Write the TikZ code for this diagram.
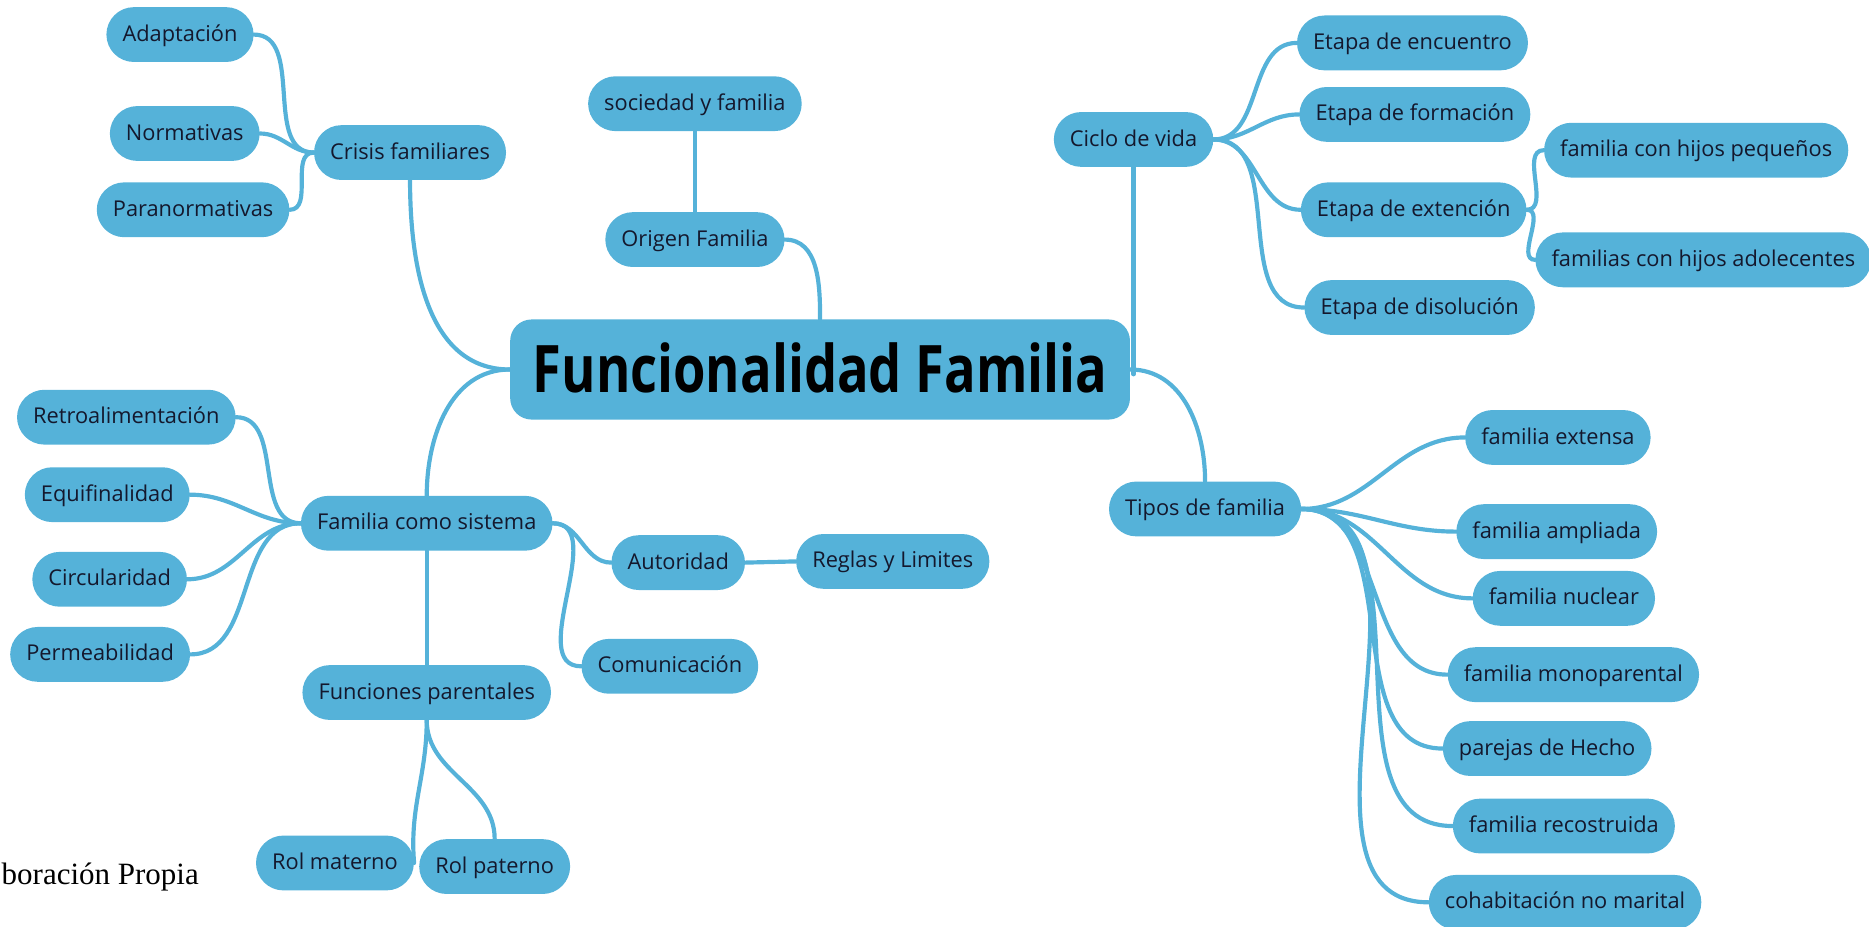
\documentclass[tikz,border=0pt]{standalone}
\usepackage{fontspec}
\setmainfont{Open Sans}
\newfontfamily\serifnote{Liberation Serif}
\newfontfamily\bigfnt[FakeStretch=0.8]{Open Sans}
\usetikzlibrary{backgrounds}
\definecolor{nodec}{RGB}{85,178,217}
\definecolor{txtc}{RGB}{20,24,45}
\tikzset{
  nd/.style={fill=nodec, rounded corners=23pt, minimum height=46pt, inner xsep=13.5pt, inner ysep=0pt,
    text=txtc, font=\fontsize{18.3}{20}\selectfont, text height=13pt, text depth=2pt},
  mainnd/.style={fill=nodec, rounded corners=18pt, minimum height=84pt, minimum width=520pt,
    text=black, font=\bigfnt\fontsize{55}{60}\selectfont\bfseries, text height=40pt, text depth=2pt},
  lk/.style={draw=nodec, line width=3.5pt, line cap=round}
}
\begin{document}
\begin{tikzpicture}[x=1pt,y=-1pt]
\useasboundingbox (0,0) rectangle (1568,777.7);
% nodes
\node[mainnd] (main) at (688,310) {Funcionalidad Familia};
\node[nd] (crisis) at (344,128) {Crisis familiares};
\node[nd] (adapt) at (151,29) {Adaptación};
\node[nd] (norm) at (155,112) {Normativas};
\node[nd] (paran) at (162,176) {Paranormativas};
\node[nd] (soc) at (583,87) {sociedad y familia};
\node[nd] (orig) at (583,201) {Origen Familia};
\node[nd] (ciclo) at (951,117) {Ciclo de vida};
\node[nd] (enc) at (1185,36) {Etapa de encuentro};
\node[nd] (form) at (1187,96) {Etapa de formación};
\node[nd] (ext) at (1186,176) {Etapa de extención};
\node[nd] (dis) at (1191,258) {Etapa de disolución};
\node[nd] (peq) at (1423,126) {familia con hijos pequeños};
\node[nd] (ado) at (1429,218) {familias con hijos adolecentes};
\node[nd] (tipos) at (1011,427) {Tipos de familia};
\node[nd] (extensa) at (1307,367) {familia extensa};
\node[nd] (ampl) at (1306,446) {familia ampliada};
\node[nd] (nuc) at (1312,502) {familia nuclear};
\node[nd] (mono) at (1320,566) {familia monoparental};
\node[nd] (hecho) at (1298,628) {parejas de Hecho};
\node[nd] (recon) at (1312,693) {familia recostruida};
\node[nd] (cohab) at (1313,757) {cohabitación no marital};
\node[nd] (fcs) at (358,439) {Familia como sistema};
\node[nd] (retro) at (106,350) {Retroalimentación};
\node[nd] (equi) at (90,415) {Equifinalidad};
\node[nd] (circ) at (92,486) {Circularidad};
\node[nd] (perm) at (84,549) {Permeabilidad};
\node[nd] (aut) at (569,472) {Autoridad};
\node[nd] (reg) at (749,471) {Reglas y Limites};
\node[nd] (com) at (562,559) {Comunicación};
\node[nd] (fp) at (358,581) {Funciones parentales};
\node[nd] (rm) at (281,724) {Rol materno};
\node[nd] (rp) at (415,727) {Rol paterno};
\node[anchor=base east, inner sep=0pt, font=\serifnote\fontsize{26}{28}\selectfont] (src) at (167,742) {boración Propia};
% connectors
\begin{scope}[on background layer]
\path[lk] (main.west) to[out=180,in=-90] (crisis.south);
\path[lk] (main.west) to[out=180,in=90] (fcs.north);
\path[lk] (main.north) to[out=90,in=0] (orig.east);
\path[lk] (ciclo.south) -- ([yshift=-4pt]ciclo.south |- main.east);
\path[lk] (main.east) to[out=0,in=90] (tipos.north);
\path[lk] (orig.north) -- (soc.south);
\foreach \c in {adapt,norm,paran}{\path[lk] (crisis.west) to[out=180,in=0] (\c.east);}
\foreach \c in {enc,form,ext,dis}{\path[lk] (ciclo.east) to[out=0,in=180] (\c.west);}
\foreach \c in {peq,ado}{\path[lk] (ext.east) to[out=0,in=180] (\c.west);}
\foreach \c in {extensa,ampl,nuc,mono,hecho,recon,cohab}{\path[lk] (tipos.east) to[out=0,in=180] (\c.west);}
\foreach \c in {retro,equi,circ,perm}{\path[lk] (fcs.west) to[out=180,in=0] (\c.east);}
\path[lk] (fcs.east) to[out=0,in=180] (aut.west);
\path[lk] (fcs.east) to[out=0,in=180] (com.west);
\path[lk] (fcs.south) -- (fp.north);
\path[lk] (aut.east) -- (reg.west);
\path[lk] (fp.south) to[out=-90,in=95] (rm.east);
\path[lk] (fp.south) to[out=-90,in=90] (rp.north);
\end{scope}
\end{tikzpicture}
\end{document}
